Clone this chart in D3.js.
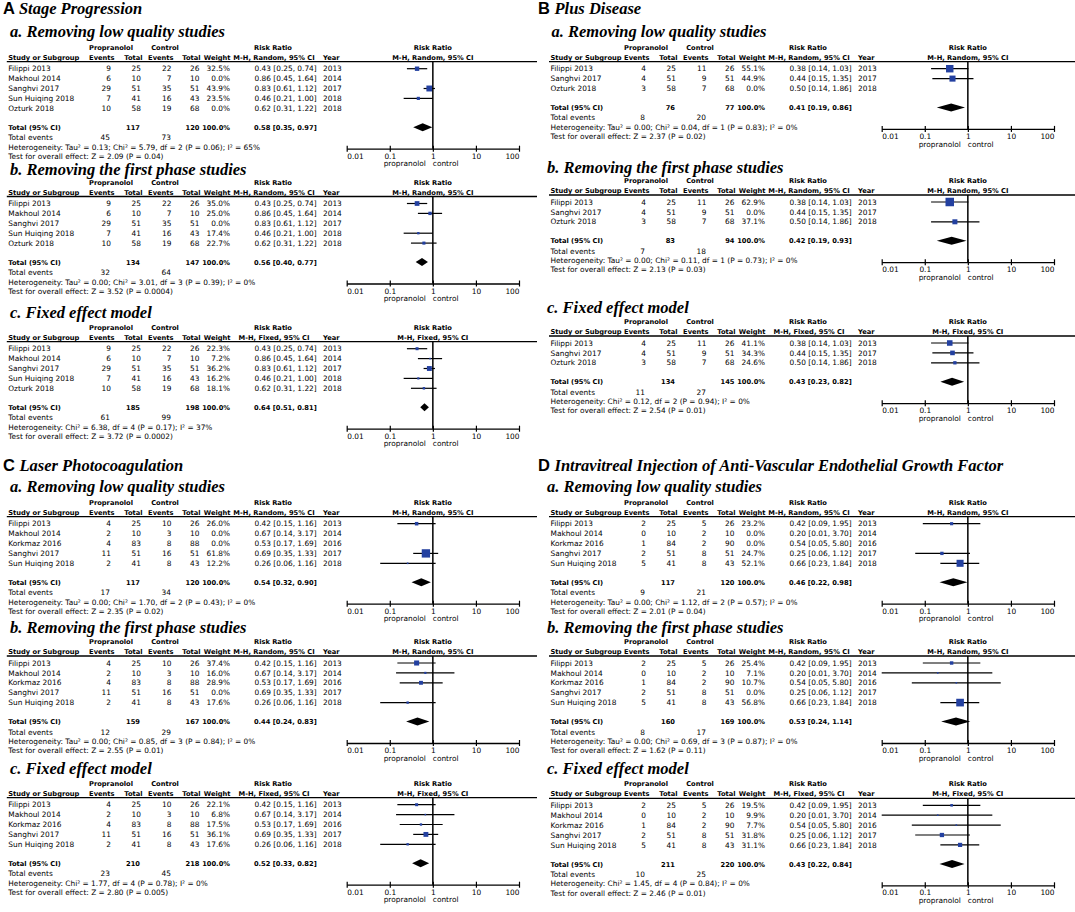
<!DOCTYPE html>
<html><head><meta charset="utf-8">
<script src="https://cdn.jsdelivr.net/npm/d3@7"></script>
<style>
body{margin:0;background:#fff}
svg{display:block}
text{font-family:"DejaVu Sans",Verdana,sans-serif;fill:#000}
.t{font-size:7.4px}
.b{font-size:6.7px;font-weight:bold}
.sub{font-family:"Liberation Serif","Times New Roman",serif;font-weight:bold;font-style:italic;font-size:16.5px}
.let{font-family:"Liberation Sans",Arial,sans-serif;font-weight:bold;font-size:16.5px}
</style>
</head><body>
<svg id="chart" width="1075" height="912"></svg>
<script>
// ---------------- DATA ----------------
const panelLetters = ["A", "B", "C", "D"];
const panelTitles = ["Stage Progression", "Plus Disease", "Laser Photocoagulation",
  "Intravitreal Injection of Anti-Vascular Endothelial Growth Factor"];
const subTitles = ["a. Removing low quality studies", "b. Removing the first phase studies", "c. Fixed effect model"];
const axisTicks = [0.01, 0.1, 1, 10, 100];
const axisTickLabels = ["0.01", "0.1", "1", "10", "100"];

// Panel A: Stage progression
const studiesA = ["Filippi 2013", "Makhoul 2014", "Sanghvi 2017", "Sun Huiqing 2018", "Ozturk 2018"];
const yearsA = [2013, 2014, 2017, 2018, 2018];
const propEventsA = [9, 6, 29, 7, 10];
const propTotalA = [25, 10, 51, 41, 58];
const ctrlEventsA = [22, 7, 35, 16, 19];
const ctrlTotalA = [26, 10, 51, 43, 68];
const rrA = [0.43, 0.86, 0.83, 0.46, 0.62];
const rrLowA = [0.25, 0.45, 0.61, 0.21, 0.31];
const rrHighA = [0.74, 1.64, 1.12, 1.00, 1.22];
const weightsAa = [32.5, 0.0, 43.9, 23.5, 0.0];
const weightsAb = [35.0, 25.0, 0.0, 17.4, 22.7];
const weightsAc = [22.3, 7.2, 36.2, 16.2, 18.1];

// Panel B: Plus disease
const studiesB = ["Filippi 2013", "Sanghvi 2017", "Ozturk 2018"];
const yearsB = [2013, 2017, 2018];
const propEventsB = [4, 4, 3];
const propTotalB = [25, 51, 58];
const ctrlEventsB = [11, 9, 7];
const ctrlTotalB = [26, 51, 68];
const rrB = [0.38, 0.44, 0.50];
const rrLowB = [0.14, 0.15, 0.14];
const rrHighB = [1.03, 1.35, 1.86];
const weightsBa = [55.1, 44.9, 0.0];
const weightsBb = [62.9, 0.0, 37.1];
const weightsBc = [41.1, 34.3, 24.6];

// Panel C: Laser photocoagulation
const studiesC = ["Filippi 2013", "Makhoul 2014", "Korkmaz 2016", "Sanghvi 2017", "Sun Huiqing 2018"];
const yearsC = [2013, 2014, 2016, 2017, 2018];
const propEventsC = [4, 2, 4, 11, 2];
const propTotalC = [25, 10, 83, 51, 41];
const ctrlEventsC = [10, 3, 8, 16, 8];
const ctrlTotalC = [26, 10, 88, 51, 43];
const rrC = [0.42, 0.67, 0.53, 0.69, 0.26];
const rrLowC = [0.15, 0.14, 0.17, 0.35, 0.06];
const rrHighC = [1.16, 3.17, 1.69, 1.33, 1.16];
const weightsCa = [26.0, 0.0, 0.0, 61.8, 12.2];
const weightsCb = [37.4, 16.0, 28.9, 0.0, 17.6];
const weightsCc = [22.1, 6.8, 17.5, 36.1, 17.6];

// Panel D: Intravitreal anti-VEGF
const studiesD = ["Filippi 2013", "Makhoul 2014", "Korkmaz 2016", "Sanghvi 2017", "Sun Huiqing 2018"];
const yearsD = [2013, 2014, 2016, 2017, 2018];
const propEventsD = [2, 0, 1, 2, 5];
const propTotalD = [25, 10, 84, 51, 41];
const ctrlEventsD = [5, 2, 2, 8, 8];
const ctrlTotalD = [26, 10, 90, 51, 43];
const rrD = [0.42, 0.20, 0.54, 0.25, 0.66];
const rrLowD = [0.09, 0.01, 0.05, 0.06, 0.23];
const rrHighD = [1.95, 3.70, 5.80, 1.12, 1.84];
const weightsDa = [23.2, 0.0, 0.0, 24.7, 52.1];
const weightsDb = [25.4, 7.1, 10.7, 0.0, 56.8];
const weightsDc = [19.5, 9.9, 7.7, 31.8, 31.1];

// Summary rows, one entry per sub-analysis (Aa, Ab, Ac, Ba, Bb, Bc, Ca, Cb, Cc, Da, Db, Dc)
const models = ["Random", "Random", "Fixed", "Random", "Random", "Fixed", "Random", "Random", "Fixed", "Random", "Random", "Fixed"];
const totalProp = [117, 134, 185, 76, 83, 134, 117, 159, 210, 117, 160, 211];
const totalCtrl = [120, 147, 198, 77, 94, 145, 120, 167, 218, 120, 169, 220];
const totalEventsProp = [45, 32, 61, 8, 7, 11, 17, 12, 23, 9, 8, 10];
const totalEventsCtrl = [73, 64, 99, 20, 18, 27, 34, 29, 45, 21, 17, 25];
const pooledRR = [0.58, 0.56, 0.64, 0.41, 0.42, 0.43, 0.54, 0.44, 0.52, 0.46, 0.53, 0.43];
const pooledLow = [0.35, 0.40, 0.51, 0.19, 0.19, 0.23, 0.32, 0.24, 0.33, 0.22, 0.24, 0.22];
const pooledHigh = [0.97, 0.77, 0.81, 0.86, 0.93, 0.82, 0.90, 0.83, 0.82, 0.98, 1.14, 0.84];
const heterogeneity = [
  "Heterogeneity: Tau² = 0.13; Chi² = 5.79, df = 2 (P = 0.06); I² = 65%",
  "Heterogeneity: Tau² = 0.00; Chi² = 3.01, df = 3 (P = 0.39); I² = 0%",
  "Heterogeneity: Chi² = 6.38, df = 4 (P = 0.17); I² = 37%",
  "Heterogeneity: Tau² = 0.00; Chi² = 0.04, df = 1 (P = 0.83); I² = 0%",
  "Heterogeneity: Tau² = 0.00; Chi² = 0.11, df = 1 (P = 0.73); I² = 0%",
  "Heterogeneity: Chi² = 0.12, df = 2 (P = 0.94); I² = 0%",
  "Heterogeneity: Tau² = 0.00; Chi² = 1.70, df = 2 (P = 0.43); I² = 0%",
  "Heterogeneity: Tau² = 0.00; Chi² = 0.85, df = 3 (P = 0.84); I² = 0%",
  "Heterogeneity: Chi² = 1.77, df = 4 (P = 0.78); I² = 0%",
  "Heterogeneity: Tau² = 0.00; Chi² = 1.12, df = 2 (P = 0.57); I² = 0%",
  "Heterogeneity: Tau² = 0.00; Chi² = 0.69, df = 3 (P = 0.87); I² = 0%",
  "Heterogeneity: Chi² = 1.45, df = 4 (P = 0.84); I² = 0%"
];
const overallTests = [
  "Test for overall effect: Z = 2.09 (P = 0.04)",
  "Test for overall effect: Z = 3.52 (P = 0.0004)",
  "Test for overall effect: Z = 3.72 (P = 0.0002)",
  "Test for overall effect: Z = 2.37 (P = 0.02)",
  "Test for overall effect: Z = 2.13 (P = 0.03)",
  "Test for overall effect: Z = 2.54 (P = 0.01)",
  "Test for overall effect: Z = 2.35 (P = 0.02)",
  "Test for overall effect: Z = 2.55 (P = 0.01)",
  "Test for overall effect: Z = 2.80 (P = 0.005)",
  "Test for overall effect: Z = 2.01 (P = 0.04)",
  "Test for overall effect: Z = 1.62 (P = 0.11)",
  "Test for overall effect: Z = 2.46 (P = 0.01)"
];

// ---------------- BUILD TABLES ----------------
function buildStudies(names, years, pe, pt, ce, ct, rr, lo, hi, w) {
  return names.map((n, i) => ({name: n, year: years[i], pe: pe[i], pt: pt[i], ce: ce[i], ct: ct[i],
    rr: rr[i], lo: lo[i], hi: hi[i], w: w[i]}));
}
const studySets = [
  buildStudies(studiesA, yearsA, propEventsA, propTotalA, ctrlEventsA, ctrlTotalA, rrA, rrLowA, rrHighA, weightsAa),
  buildStudies(studiesA, yearsA, propEventsA, propTotalA, ctrlEventsA, ctrlTotalA, rrA, rrLowA, rrHighA, weightsAb),
  buildStudies(studiesA, yearsA, propEventsA, propTotalA, ctrlEventsA, ctrlTotalA, rrA, rrLowA, rrHighA, weightsAc),
  buildStudies(studiesB, yearsB, propEventsB, propTotalB, ctrlEventsB, ctrlTotalB, rrB, rrLowB, rrHighB, weightsBa),
  buildStudies(studiesB, yearsB, propEventsB, propTotalB, ctrlEventsB, ctrlTotalB, rrB, rrLowB, rrHighB, weightsBb),
  buildStudies(studiesB, yearsB, propEventsB, propTotalB, ctrlEventsB, ctrlTotalB, rrB, rrLowB, rrHighB, weightsBc),
  buildStudies(studiesC, yearsC, propEventsC, propTotalC, ctrlEventsC, ctrlTotalC, rrC, rrLowC, rrHighC, weightsCa),
  buildStudies(studiesC, yearsC, propEventsC, propTotalC, ctrlEventsC, ctrlTotalC, rrC, rrLowC, rrHighC, weightsCb),
  buildStudies(studiesC, yearsC, propEventsC, propTotalC, ctrlEventsC, ctrlTotalC, rrC, rrLowC, rrHighC, weightsCc),
  buildStudies(studiesD, yearsD, propEventsD, propTotalD, ctrlEventsD, ctrlTotalD, rrD, rrLowD, rrHighD, weightsDa),
  buildStudies(studiesD, yearsD, propEventsD, propTotalD, ctrlEventsD, ctrlTotalD, rrD, rrLowD, rrHighD, weightsDb),
  buildStudies(studiesD, yearsD, propEventsD, propTotalD, ctrlEventsD, ctrlTotalD, rrD, rrLowD, rrHighD, weightsDc)
];

// ---------------- LAYOUT ----------------
const panelX = [0, 535, 0, 535];
const panelTitleY = [14, 14, 471, 471];
const ruleYs = [61.7, 196.5, 341.7, 61.7, 195, 336, 516.7, 656, 797.7, 516.7, 656, 798.3];
const subOffsets = [24.5, 22, 23.7, 24.4, 21.7, 23.5, 24.4, 22.7, 23.4, 25.2, 22.7, 24];

const svg = d3.select("#chart");
const f2 = d3.format(".2f"), f1 = d3.format(".1f");
const ci = (r, l, h) => `${f2(r)} [${f2(l)}, ${f2(h)}]`;

panelLetters.forEach((L, p) => {
  const t = svg.append("text").attr("x", panelX[p] + 3).attr("y", panelTitleY[p]);
  t.append("tspan").attr("class", "let").text(L + " ");
  t.append("tspan").attr("class", "sub").text(panelTitles[p]);
});

function drawForest(k) {
  const p = Math.floor(k / 3), s = k % 3;
  const right = p % 2 === 1;
  const g = svg.append("g").attr("transform", `translate(${panelX[p]},0)`);
  const rule = ruleYs[k];
  const labelX = right ? 15.5 : 8.3;
  const subX = (k === 3) ? 16.5 : (right ? 12 : 10);
  const data = studySets[k];
  const x = d3.scaleLog().domain([0.01, 100]).range([346.7, 519]);
  const bl = 2.6; // center -> baseline

  g.append("text").attr("class", "sub").attr("x", subX).attr("y", rule - subOffsets[k]).text(subTitles[s]);

  // header
  const h1 = rule - 14.5 + bl, h2 = rule - 4.5 + bl;
  const hdr = (txt, xx, yy, anchor) => g.append("text").attr("class", "b").attr("x", xx).attr("y", yy)
    .attr("text-anchor", anchor).text(txt);
  hdr("Propranolol", 111, h1, "middle");
  hdr("Control", 165, h1, "middle");
  hdr("Risk Ratio", 273, h1, "middle");
  hdr("Risk Ratio", x(1), h1, "middle");
  const mh = `M-H, ${models[k]}, 95% CI`;
  hdr("Study or Subgroup", labelX, h2, "start");
  hdr("Events", 114.5, h2, "end");
  hdr("Total", 142.5, h2, "end");
  hdr("Events", 173.5, h2, "end");
  hdr("Total", 200.5, h2, "end");
  hdr("Weight", 230.5, h2, "end");
  hdr(mh, 274, h2, "middle");
  hdr("Year", 323, h2, "start");
  hdr(mh, x(1), h2, "middle");

  g.append("line").attr("x1", labelX - 1.5).attr("x2", right ? 545 : 537)
    .attr("y1", rule).attr("y2", rule).attr("stroke", "#000").attr("stroke-width", 1.3);

  const rowY = i => rule + 7 + i * 9.9;
  const rows = g.selectAll("g.row").data(data).enter().append("g").attr("class", "row")
    .attr("transform", (d, i) => `translate(0,${rowY(i)})`);
  const cell = (fn, xx, anchor) => rows.append("text").attr("class", "t").attr("x", xx).attr("y", bl)
    .attr("text-anchor", anchor).text(fn);
  cell(d => d.name, labelX, "start");
  cell(d => d.pe, 111, "end");
  cell(d => d.pt, 141, "end");
  cell(d => d.ce, 171.5, "end");
  cell(d => d.ct, 199.5, "end");
  cell(d => f1(d.w) + "%", 230, "end");
  cell(d => ci(d.rr, d.lo, d.hi), 316.7, "end");
  cell(d => d.year, 323, "start");

  const vis = rows.filter(d => d.w > 0);
  vis.append("line").attr("x1", d => x(d.lo)).attr("x2", d => x(d.hi)).attr("y1", 0).attr("y2", 0)
    .attr("stroke", "#000").attr("stroke-width", 1.2);
  vis.append("rect").attr("fill", "#2340a0")
    .attr("x", d => x(d.rr) - Math.max(1.6, 0.135 * d.w) / 2)
    .attr("y", d => -Math.max(1.6, 0.135 * d.w) / 2)
    .attr("width", d => Math.max(1.6, 0.135 * d.w))
    .attr("height", d => Math.max(1.6, 0.135 * d.w));

  const lastY = rowY(data.length - 1);
  const totY = lastY + 19, evY = totY + 10.3, hetY = evY + 9.6, testY = hetY + 9.1;
  const axisY = hetY + 1.5;
  const bold = (txt, xx, anchor) => g.append("text").attr("class", "b").attr("x", xx).attr("y", totY + bl)
    .attr("text-anchor", anchor).text(txt);
  bold("Total (95% CI)", labelX, "start");
  bold(totalProp[k], 140, "end");
  bold(totalCtrl[k], 199.5, "end");
  bold("100.0%", 230, "end");
  bold(ci(pooledRR[k], pooledLow[k], pooledHigh[k]), 316.7, "end");

  const plain = (txt, xx, yy, anchor) => g.append("text").attr("class", "t").attr("x", xx).attr("y", yy + bl)
    .attr("text-anchor", anchor).text(txt);
  plain("Total events", labelX, evY, "start");
  plain(totalEventsProp[k], 110, evY, "end");
  plain(totalEventsCtrl[k], 171, evY, "end");
  plain(heterogeneity[k], labelX, hetY, "start");
  plain(overallTests[k], labelX, testY, "start");

  // diamond
  const dh = 4;
  g.append("path").attr("fill", "#000").attr("d",
    `M${x(pooledLow[k])},${totY}L${x(pooledRR[k])},${totY - dh}L${x(pooledHigh[k])},${totY}L${x(pooledRR[k])},${totY + dh}Z`);

  // null line
  g.append("line").attr("x1", x(1)).attr("x2", x(1)).attr("y1", rule).attr("y2", axisY)
    .attr("stroke", "#000").attr("stroke-width", 1.5);

  // axis
  const ax = g.append("g").attr("transform", `translate(0,${axisY})`)
    .call(d3.axisBottom(x).tickValues(axisTicks).tickFormat((d, i) => axisTickLabels[i]).tickSizeOuter(0).tickSizeInner(3));
  ax.select(".domain").attr("stroke", "#000").attr("stroke-width", 1.3);
  ax.selectAll(".tick line").attr("y1", -3).attr("y2", 3).attr("stroke", "#000").attr("stroke-width", 1.2);
  ax.selectAll(".tick text").attr("class", "t").attr("font-size", null).attr("font-family", null)
    .attr("y", 7.5).attr("dy", "0.35em").attr("fill", "#000")
    .attr("text-anchor", (d, i) => i === 0 ? "start" : (i === axisTicks.length - 1 ? "end" : "middle"));
  g.append("text").attr("class", "t").attr("x", x(1) - 7).attr("y", axisY + 15 + bl)
    .attr("text-anchor", "end").text("propranolol");
  g.append("text").attr("class", "t").attr("x", x(1)).attr("y", axisY + 15 + bl)
    .attr("text-anchor", "start").text("control");
}

for (let k = 0; k < 12; k++) drawForest(k);
</script>
</body></html>
